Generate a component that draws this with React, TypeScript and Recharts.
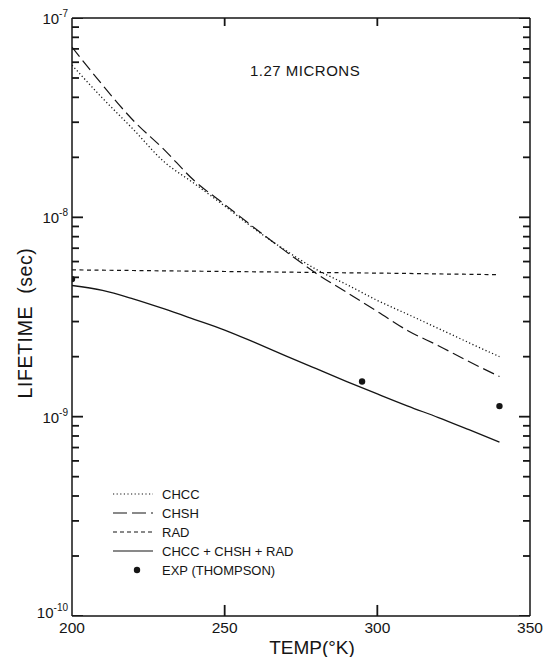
import React from "react";
import { ComposedChart, Line, Scatter, XAxis, YAxis } from "recharts";

// lifetimes (sec) vs temperature (K), 1.27 micron line
const TEMPS = [200, 210, 220, 230, 240, 250, 260, 270, 280, 290, 300, 310, 320, 330, 340];
const CHCC = [5.8e-8, 3.96e-8, 2.77e-8, 1.91e-8, 1.48e-8, 1.14e-8, 8.7e-9, 6.82e-9, 5.48e-9, 4.6e-9, 3.83e-9, 3.26e-9, 2.77e-9, 2.35e-9, 2.0e-9];
const CHSH = [7.15e-8, 4.61e-8, 3.07e-8, 2.2e-8, 1.53e-8, 1.16e-8, 8.8e-9, 6.75e-9, 5.23e-9, 4.2e-9, 3.37e-9, 2.7e-9, 2.27e-9, 1.89e-9, 1.59e-9];
const RAD = [5.45e-9, 5.43e-9, 5.41e-9, 5.39e-9, 5.37e-9, 5.35e-9, 5.33e-9, 5.31e-9, 5.29e-9, 5.27e-9, 5.25e-9, 5.23e-9, 5.2e-9, 5.18e-9, 5.15e-9];
const TOTAL = [4.55e-9, 4.3e-9, 3.9e-9, 3.48e-9, 3.08e-9, 2.72e-9, 2.35e-9, 2.02e-9, 1.74e-9, 1.5e-9, 1.3e-9, 1.13e-9, 9.9e-10, 8.6e-10, 7.45e-10];

// measured points (Thompson)
const EXP_T = [200, 295, 340];
const EXP_TAU = [4.9e-9, 1.5e-9, 1.13e-9];

const X_TICKS = [200, 250, 300, 350];
const X_INNER_TICKS = [250, 300];
const Y_MAJOR = [1e-10, 1e-9, 1e-8, 1e-7];
const Y_MINOR = [
  2e-10, 3e-10, 4e-10, 5e-10, 6e-10, 7e-10, 8e-10, 9e-10,
  2e-9, 3e-9, 4e-9, 5e-9, 6e-9, 7e-9, 8e-9, 9e-9,
  2e-8, 3e-8, 4e-8, 5e-8, 6e-8, 7e-8, 8e-8, 9e-8,
];
const Y_EXP: Record<string, string> = { "1e-10": "-10", "1e-9": "-9", "1e-8": "-8", "1e-7": "-7" };

const X_MIN = 200;
const X_MAX = 350;
const Y_MIN = 1e-10;
const Y_MAX = 1e-7;

// inward tick lengths, in axis units (temperature for y ticks, log factor for x ticks)
const MAJOR_DT = 3.6;
const MINOR_DT = 2.3;
const BOTTOM_TICK_F = 1.136;
const TOP_TICK_F = 0.912;

const FONT = "'Liberation Sans', Arial, sans-serif";
const INK = "#151515";

const data = TEMPS.map((t, i) => ({ t, chcc: CHCC[i], chsh: CHSH[i], rad: RAD[i], total: TOTAL[i] }));
const expData = EXP_T.map((t, i) => ({ t, tau: EXP_TAU[i] }));

const isMajor = (v: number) => Y_MAJOR.some((m) => Math.abs(m - v) / m < 1e-6);

// two-point segments for the frame ticks
const tickSegments = [
  ...[...Y_MAJOR, ...Y_MINOR].flatMap((v) => {
    const dt = isMajor(v) ? MAJOR_DT : MINOR_DT;
    return [
      [{ t: X_MIN, tau: v }, { t: X_MIN + dt, tau: v }],
      [{ t: X_MAX - dt, tau: v }, { t: X_MAX, tau: v }],
    ];
  }),
  ...X_INNER_TICKS.flatMap((t) => [
    [{ t, tau: Y_MIN }, { t, tau: Y_MIN * BOTTOM_TICK_F }],
    [{ t, tau: Y_MAX * TOP_TICK_F }, { t, tau: Y_MAX }],
  ]),
];

function leftTick(props: any) {
  const x = Number(props.x);
  const y = Number(props.y);
  const v = props.payload.value;
  return (
    <text x={x - 4} y={y + (v < 5e-10 ? 2 : 6)} textAnchor="end" fontFamily={FONT} fontSize={15} fill={INK}>
      10
      <tspan dy={-7} fontSize={10}>
        {Y_EXP[String(v)]}
      </tspan>
    </text>
  );
}

function bottomTick(props: any) {
  return (
    <text x={Number(props.x)} y={Number(props.y) + 17} textAnchor="middle" fontFamily={FONT} fontSize={15.5} fill={INK}>
      {props.payload.value}
    </text>
  );
}

const LEGEND = [
  { name: "CHCC", dash: "1.2 2.4", kind: "line" },
  { name: "CHSH", dash: "14 5", kind: "line" },
  { name: "RAD", dash: "4 3", kind: "line" },
  { name: "CHCC + CHSH + RAD", dash: "", kind: "line" },
  { name: "EXP (THOMPSON)", dash: "", kind: "dot" },
];

function LegendBox() {
  return (
    <svg width={220} height={110} style={{ position: "absolute", left: 100, top: 480 }}>
      {LEGEND.map((item, i) => {
        const y = 14 + i * 19;
        return (
          <g key={item.name}>
            {item.kind === "line" ? (
              <line x1={13} x2={53} y1={y} y2={y} stroke={INK} strokeWidth={1.2} strokeDasharray={item.dash || undefined} />
            ) : (
              <circle cx={37} cy={y} r={3.2} fill={INK} />
            )}
            <text x={62} y={y + 4.5} fontFamily={FONT} fontSize={13} fill={INK}>
              {item.name}
            </text>
          </g>
        );
      })}
    </svg>
  );
}

export default function App() {
  const axisLine = { stroke: INK, strokeWidth: 1.5 };
  return (
    <div style={{ position: "absolute", left: 0, top: 0, width: 550, height: 657, background: "#fff" }}>
      <ComposedChart width={550} height={657} data={data} margin={{ top: 0, right: 0, bottom: 0, left: 0 }}>
        <XAxis
          dataKey="t"
          type="number"
          domain={[X_MIN, X_MAX]}
          ticks={X_TICKS}
          interval={0}
          allowDataOverflow
          height={41}
          axisLine={axisLine}
          tickLine={false}
          tickSize={0}
          tickMargin={0}
          tick={bottomTick}
        />
        <XAxis
          xAxisId="top"
          orientation="top"
          dataKey="t"
          type="number"
          domain={[X_MIN, X_MAX]}
          allowDataOverflow
          height={18}
          axisLine={axisLine}
          tickLine={false}
          tick={false}
        />
        <YAxis
          type="number"
          scale="log"
          domain={[Y_MIN, Y_MAX]}
          ticks={Y_MAJOR}
          interval={0}
          allowDataOverflow
          width={72}
          axisLine={axisLine}
          tickLine={false}
          tickSize={0}
          tickMargin={0}
          tick={leftTick}
        />
        <YAxis
          yAxisId="right"
          orientation="right"
          type="number"
          scale="log"
          domain={[Y_MIN, Y_MAX]}
          allowDataOverflow
          width={20}
          axisLine={axisLine}
          tickLine={false}
          tick={false}
        />
        {/* keeps the top and right frame axes bound to a series */}
        <Line xAxisId="top" yAxisId="right" dataKey="rad" stroke="none" dot={false} isAnimationActive={false} />

        {tickSegments.map((seg, i) => (
          <Line
            key={`tick-${i}`}
            data={seg}
            dataKey="tau"
            type="linear"
            stroke={INK}
            strokeWidth={1.8}
            dot={false}
            activeDot={false}
            legendType="none"
            isAnimationActive={false}
          />
        ))}

        <Line type="monotone" dataKey="chcc" stroke={INK} strokeWidth={1.3} strokeDasharray="1.2 2.4" dot={false} isAnimationActive={false} />
        <Line type="monotone" dataKey="chsh" stroke={INK} strokeWidth={1.2} strokeDasharray="12 5" dot={false} isAnimationActive={false} />
        <Line type="monotone" dataKey="rad" stroke={INK} strokeWidth={1.2} strokeDasharray="4 3.5" dot={false} isAnimationActive={false} />
        <Line type="monotone" dataKey="total" stroke={INK} strokeWidth={1.3} dot={false} isAnimationActive={false} />
        <Scatter
          data={expData}
          dataKey="tau"
          fill={INK}
          isAnimationActive={false}
          shape={(p: any) => <circle cx={p.cx} cy={p.cy} r={3.2} fill={INK} />}
        />
      </ComposedChart>
      <LegendBox />
      <div
        style={{
          position: "absolute",
          left: 250,
          top: 62,
          fontFamily: FONT,
          fontSize: 15,
          letterSpacing: 0.5,
          color: INK,
          whiteSpace: "pre",
        }}
      >
        {"1.27 MICRONS"}
      </div>
      <div
        style={{
          position: "absolute",
          left: 25,
          top: 323,
          transform: "translate(-50%, -50%) rotate(-90deg)",
          fontFamily: FONT,
          fontSize: 19.5,
          letterSpacing: 0.6,
          color: INK,
          whiteSpace: "pre",
        }}
      >
        {"LIFETIME  (sec)"}
      </div>
      <div
        style={{
          position: "absolute",
          left: 312,
          top: 648,
          transform: "translate(-50%, -50%)",
          fontFamily: FONT,
          fontSize: 19,
          color: INK,
          whiteSpace: "nowrap",
        }}
      >
        TEMP(°K)
      </div>
    </div>
  );
}
